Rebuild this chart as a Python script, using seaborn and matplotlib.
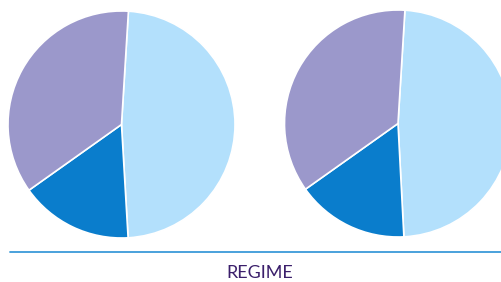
import matplotlib
matplotlib.use("Agg")
import matplotlib.pyplot as plt
import seaborn as sns
from matplotlib.lines import Line2D

# slice shares (percent)
labels = ["Light", "Dark", "Purple"]
left_pie = [48.1, 16.1, 35.8]
right_pie = [48.2, 16.0, 35.8]
colors = ["#b3e0fc", "#0a7dcc", "#9b98cb"]

sns.set_theme(style="white")
plt.rcParams["font.family"] = ["Lato", "DejaVu Sans"]

W, H = 502, 282
fig = plt.figure(figsize=(W / 100, H / 100), dpi=100)


def add_pie(cx, cy, r, values):
    ax = fig.add_axes([(cx - r) / W, (H - cy - r) / H, 2 * r / W, 2 * r / H])
    ax.pie(values, colors=colors, startangle=86.5, counterclock=False,
           wedgeprops=dict(edgecolor="white", linewidth=1.2))
    ax.set_xlim(-1, 1)
    ax.set_ylim(-1, 1)
    ax.set_aspect("equal")
    ax.axis("off")
    return ax


add_pie(121.5, 124.5, 113.5, left_pie)
add_pie(398, 123.5, 113.5, right_pie)

fig.add_artist(Line2D([10 / W, 1], [1 - 251.5 / H, 1 - 251.5 / H],
                      color="#3a9ad9", linewidth=1.3))
fig.text(260 / W, 1 - 273.5 / H, "REGIME", ha="center", va="center",
         fontsize=13, color="#3b1f6b")

fig.savefig("out.png", dpi=100)
